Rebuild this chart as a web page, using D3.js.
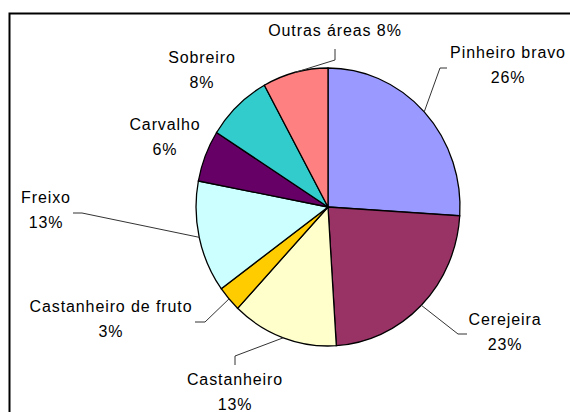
<!DOCTYPE html>
<html>
<head>
<meta charset="utf-8">
<script src="https://cdn.jsdelivr.net/npm/d3@7"></script>
<style>
  body { margin: 0; background: #fff; }
  text { font-family: "Liberation Sans", Arial, sans-serif; font-size: 16px; letter-spacing: 0.9px; fill: #000; }
</style>
</head>
<body>
<div id="chart"></div>
<script>
// data ***********
var names = ["Pinheiro bravo", "Cerejeira", "Castanheiro", "Castanheiro de fruto",
             "Freixo", "Carvalho", "Sobreiro", "Outras áreas"];
var shares = [26, 23, 13, 3, 13, 6, 8, 8];
var colors = ["#9999FF", "#993366", "#FFFFCC", "#FFCC00",
              "#CCFFFF", "#660066", "#33CCCC", "#FF8080"];

// label layout: text centre x, first baseline y, leader start + elbow (null = no leader)
var labelLayout = [
  { x: 508, y: 58,  oneLine: false, lead: [[447, 68], [440, 68]] },
  { x: 505, y: 325, oneLine: false, lead: [[467, 334], [458, 334]] },
  { x: 235, y: 385, oneLine: false, lead: [[235, 365], [235, 356]] },
  { x: 111, y: 312, oneLine: false, lead: [[195, 322], [205, 322]] },
  { x: 46,  y: 203, oneLine: false, lead: [[73, 213], [82, 213]] },
  { x: 165, y: 130, oneLine: false, lead: null },
  { x: 202, y: 63,  oneLine: false, lead: null },
  { x: 335, y: 36,  oneLine: true,  lead: [[335, 49], [335, 60]] }
];

var svgWidth = 570, svgHeight = 412;
var cx = 328, cy = 207, rx = 132, ry = 139;

var svg = d3.select("#chart").append("svg")
  .attr("width", svgWidth)
  .attr("height", svgHeight);

// chart frame
svg.append("rect")
  .attr("x", 9.5).attr("y", 13.5)
  .attr("width", 700).attr("height", 500)
  .attr("fill", "none")
  .attr("stroke", "#000")
  .attr("stroke-width", 2);

var table = names.map((n, i) => ({ name: n, value: shares[i], color: colors[i] }));

var pie = d3.pie().sort(null).value(d => d.value);
var arcs = pie(table);

// unit arc, stretched to the ellipse
var arc = d3.arc().innerRadius(0).outerRadius(1);

var pieG = svg.append("g")
  .attr("transform", `translate(${cx},${cy}) scale(${rx},${ry})`);

pieG.selectAll("path")
  .data(arcs)
  .enter()
  .append("path")
  .attr("d", arc)
  .attr("fill", d => d.data.color)
  .attr("stroke", "#000")
  .attr("stroke-width", 1.3)
  .attr("vector-effect", "non-scaling-stroke");

// leader lines
function edgePoint(d) {
  var a = (d.startAngle + d.endAngle) / 2;
  return [cx + rx * Math.sin(a), cy - ry * Math.cos(a)];
}

svg.selectAll("polyline.leader")
  .data(arcs.filter((d, i) => labelLayout[i].lead))
  .enter()
  .append("polyline")
  .attr("class", "leader")
  .attr("points", d => {
    var l = labelLayout[d.index].lead;
    return [l[0], l[1], edgePoint(d)].map(p => p.join(",")).join(" ");
  })
  .attr("fill", "none")
  .attr("stroke", "#333")
  .attr("stroke-width", 1);

// labels
var labels = svg.selectAll("text.lbl")
  .data(arcs)
  .enter()
  .append("text")
  .attr("class", "lbl")
  .attr("text-anchor", "middle");

labels.each(function(d) {
  var L = labelLayout[d.index];
  var t = d3.select(this);
  var pct = d.data.value + "%";
  if (L.oneLine) {
    t.append("tspan").attr("x", L.x).attr("y", L.y).text(d.data.name + " " + pct);
  } else {
    t.append("tspan").attr("x", L.x).attr("y", L.y).text(d.data.name);
    t.append("tspan").attr("x", L.x).attr("y", L.y + 25).text(pct);
  }
});
</script>
</body>
</html>
